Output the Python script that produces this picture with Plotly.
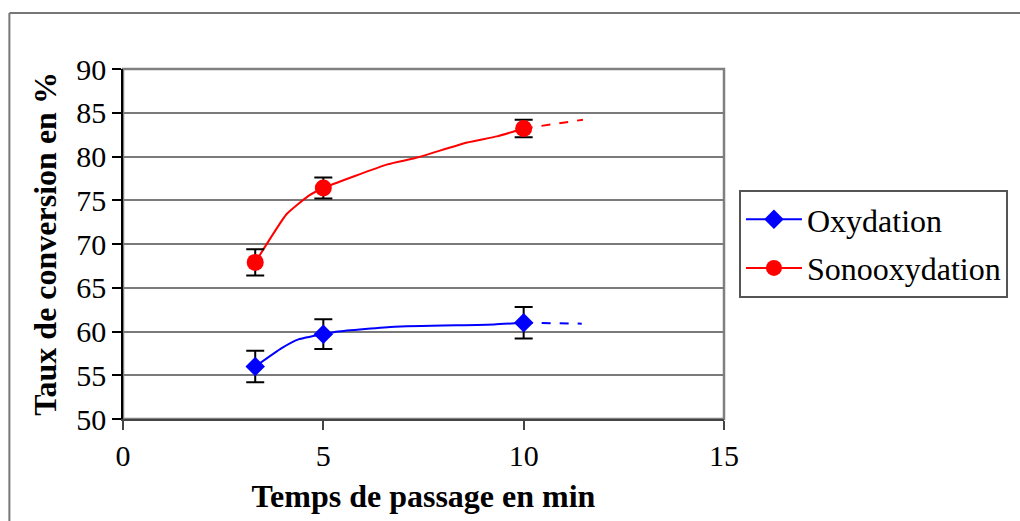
import plotly.graph_objects as go

# measured points (with error bars)
t_meas = [3.3, 5, 10]
oxy_meas = [56.0, 59.7, 61.0]
oxy_err = [1.8, 1.7, 1.8]
sono_meas = [67.9, 76.4, 83.2]
sono_err = [1.5, 1.2, 1.0]

# smoothed curves through the points
oxy_curve_t = [3.3, 3.96, 4.38, 5, 5.37, 6.78, 9.26, 10]
oxy_curve = [56.0, 58.1, 59.1, 59.7, 60.0, 60.55, 60.8, 61.0]
sono_curve_t = [3.3, 4.08, 4.63, 5, 6.6, 7.28, 8.59, 9.33, 10]
sono_curve = [67.9, 73.4, 75.5, 76.4, 79.1, 79.8, 81.6, 82.3, 83.2]

# dashed extrapolation
oxy_ext_t = [10, 11.45]
oxy_ext = [61.0, 60.9]
sono_ext_t = [10, 11.48]
sono_ext = [83.2, 84.2]

BLUE = "#0000FF"
RED = "#FF0000"
FONT = "Liberation Serif, Times New Roman, serif"

fig = go.Figure()

series = [
    ("Oxydation", BLUE, "diamond", 15, oxy_curve_t, oxy_curve, oxy_ext_t, oxy_ext, oxy_meas, oxy_err),
    ("Sonooxydation", RED, "circle", 17, sono_curve_t, sono_curve, sono_ext_t, sono_ext, sono_meas, sono_err),
]

for name, col, sym, size, ct, cy, et, ey, my, me in series:
    fig.add_trace(go.Scatter(x=ct, y=cy, mode="lines",
                             line=dict(color=col, width=2, shape="spline", smoothing=0.4),
                             showlegend=False, hoverinfo="skip"))
    fig.add_trace(go.Scatter(x=et, y=ey, mode="lines", line=dict(color=col, width=2, dash="dash"),
                             showlegend=False, hoverinfo="skip"))
    fig.add_trace(go.Scatter(x=t_meas, y=my, mode="markers", marker=dict(color=col, symbol=sym, size=size),
                             error_y=dict(type="data", array=me, color="black", thickness=2, width=9),
                             showlegend=False))
    # legend entry
    fig.add_trace(go.Scatter(x=[None], y=[None], mode="lines+markers", name=name, legendgroup=name,
                             line=dict(color=col, width=2), marker=dict(color=col, symbol=sym, size=size)))

# plot area in pixels: x 123..726, y 69..419
PW, PH = 603, 350
fig.update_layout(
    width=1020, height=521,
    margin=dict(l=123, r=1020 - 726, t=69, b=521 - 419),
    paper_bgcolor="white", plot_bgcolor="white",
    font=dict(family=FONT, color="black", size=30),
    legend=dict(x=(741 - 123) / PW, y=(419 - 190) / PH, xanchor="left", yanchor="top",
                bordercolor="#555555", borderwidth=2, font=dict(size=32),
                itemwidth=56, tracegroupgap=4),
    shapes=[
        dict(type="rect", xref="paper", yref="paper", x0=0, x1=1, y0=0, y1=1,
             line=dict(color="#808080", width=2.5), layer="below"),
        # outer chart border (top and left visible)
        dict(type="line", xref="paper", yref="paper", x0=(9 - 123) / PW, x1=2,
             y0=(419 - 13) / PH, y1=(419 - 13) / PH, line=dict(color="#777777", width=2)),
        dict(type="line", xref="paper", yref="paper", x0=(9 - 123) / PW, x1=(9 - 123) / PW,
             y0=(419 - 13) / PH, y1=-1, line=dict(color="#777777", width=2)),
    ],
)

fig.update_xaxes(
    range=[0, 15], tickvals=[0, 5, 10, 15], showgrid=False, zeroline=False,
    showline=True, linecolor="#444444", linewidth=2,
    ticks="outside", ticklen=9, tickcolor="#444444", tickwidth=1.5,
    tickfont=dict(size=30),
    title=dict(text="Temps de passage en min", font=dict(size=32, weight="bold"), standoff=14),
)
fig.update_yaxes(
    range=[50, 90], dtick=5, showgrid=True, gridcolor="#7a7a7a", gridwidth=2, zeroline=False,
    showline=True, linecolor="black", linewidth=1.5,
    ticks="outside", ticklen=9, tickcolor="black", tickwidth=1.5,
    tickfont=dict(size=30),
    title=dict(text="Taux de conversion en %", font=dict(size=32, weight="bold"), standoff=10),
)

fig.write_html("out.html", config={"displayModeBar": False},
               post_script="document.body.style.margin='0';")
